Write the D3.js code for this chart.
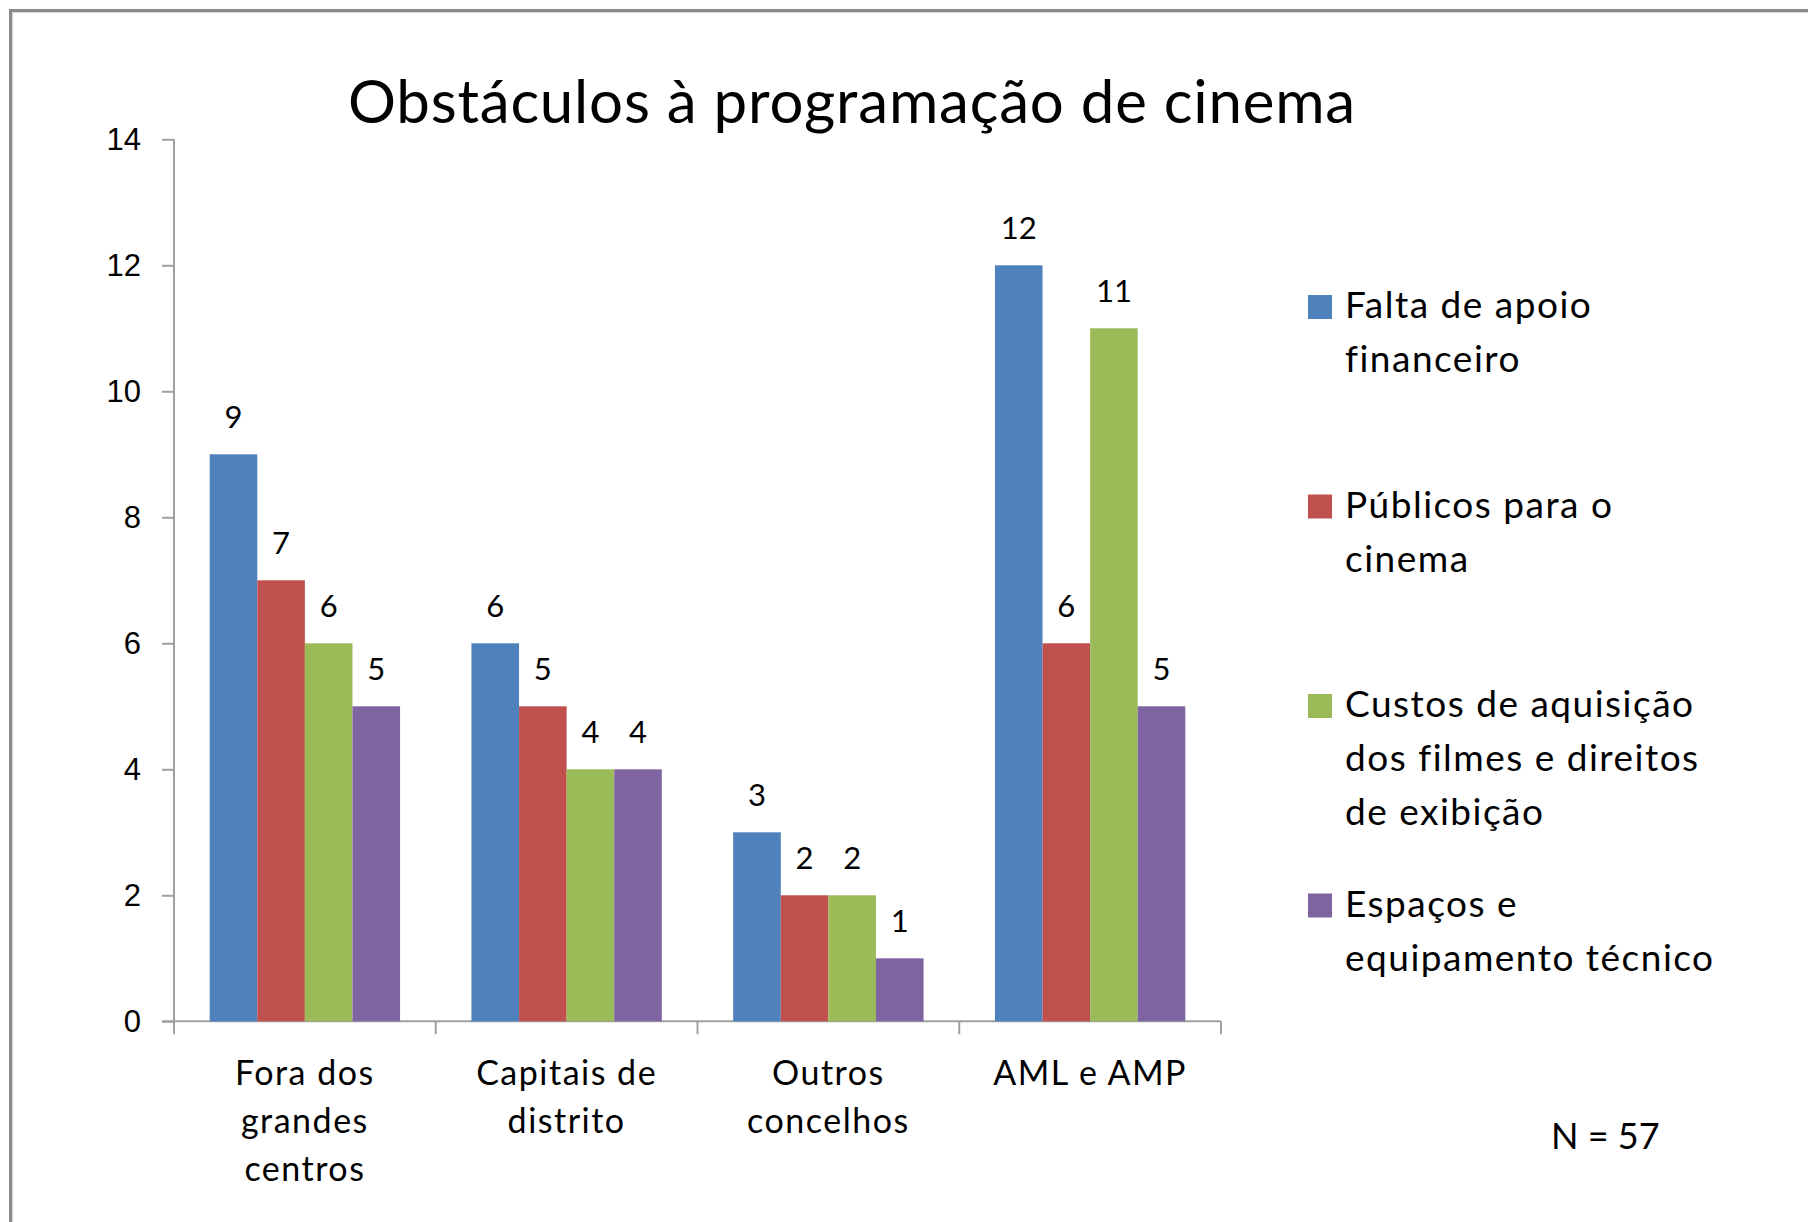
<!DOCTYPE html>
<html>
<head>
<meta charset="utf-8">
<script src="https://cdn.jsdelivr.net/npm/d3@7"></script>
<style>
  body { margin: 0; background: #fff; }
  svg { display: block; font-family: Lato, "Open Sans", sans-serif; }
  .axis path, .axis line { stroke: #a0a0a0; stroke-width: 2px; }
</style>
</head>
<body>
<div class="content"></div>
<script>
var size = {width: 1808, height: 1222};

// data
var categories = ["Fora dos\ngrandes\ncentros", "Capitais de\ndistrito", "Outros\nconcelhos", "AML e AMP"];
var series = ["Falta de apoio\nfinanceiro", "Públicos para o\ncinema", "Custos de aquisição\ndos filmes e direitos\nde exibição", "Espaços e\nequipamento técnico"];
var colors = ["#4f81bd", "#c0504d", "#9bbb59", "#8064a2"];
var values = [
    [9, 7, 6, 5],     // Fora dos grandes centros
    [6, 5, 4, 4],     // Capitais de distrito
    [3, 2, 2, 1],     // Outros concelhos
    [12, 6, 11, 5]    // AML e AMP
];
var yTicks = [0, 2, 4, 6, 8, 10, 12, 14];
var title = "Obstáculos à programação de cinema";
var note = "N = 57";

var plotArea = {left: 174, right: 1221, top: 139.3, bottom: 1021.3};

var chart = d3.select('.content')
    .append('svg:svg')
    .attr('width', size.width)
    .attr('height', size.height);

chart.append('rect')
    .attr('width', size.width).attr('height', size.height)
    .attr('fill', '#fff');

// outer frame, only top and left edges are visible in the picture
chart.append('rect')
    .attr('x', 10.5).attr('y', 10.5)
    .attr('width', size.width + 20).attr('height', size.height + 20)
    .attr('fill', 'none')
    .attr('stroke', '#8a8a8a')
    .attr('stroke-width', 3);
chart.append('rect')
    .attr('x', 12.5).attr('y', 12.5)
    .attr('width', size.width + 20).attr('height', size.height + 20)
    .attr('fill', 'none')
    .attr('stroke', '#d4d4d4')
    .attr('stroke-width', 1);

var xScale = d3.scaleBand()
    .domain(d3.range(categories.length))
    .range([plotArea.left, plotArea.right]);
var subScale = d3.scaleBand()
    .domain(d3.range(series.length))
    .range([0, xScale.bandwidth()])
    .paddingOuter(0.75);
var yScale = d3.scaleLinear()
    .domain([0, 14])
    .range([plotArea.bottom, plotArea.top]);

// y axis
var yAxis = d3.axisLeft(yScale).tickValues(yTicks).tickSize(12).tickPadding(21);
var yAxisObj = chart.append('g')
    .attr('class', 'axis')
    .attr('transform', 'translate(' + plotArea.left + ',0)')
    .call(yAxis);
yAxisObj.select('.domain').remove();
yAxisObj.append('line')
    .attr('x1', 0).attr('x2', 0)
    .attr('y1', plotArea.top).attr('y2', plotArea.bottom);
yAxisObj.selectAll('text')
    .attr('fill', '#000')
    .style('font-size', '31px');

// x axis: tick marks at category boundaries
var xAxisObj = chart.append('g')
    .attr('class', 'axis')
    .attr('transform', 'translate(0,' + plotArea.bottom + ')');
xAxisObj.append('line')
    .attr('x1', plotArea.left - 12).attr('x2', plotArea.right)
    .attr('y1', 0).attr('y2', 0);
xAxisObj.selectAll('line.tick')
    .data(d3.range(categories.length + 1))
    .enter().append('line')
    .attr('class', 'tick')
    .attr('x1', function(d) { return d < categories.length ? xScale(d) : plotArea.right; })
    .attr('x2', function(d) { return d < categories.length ? xScale(d) : plotArea.right; })
    .attr('y1', 0).attr('y2', 13);

// category labels
xAxisObj.selectAll('text.cat')
    .data(categories)
    .enter().append('text')
    .attr('class', 'cat')
    .attr('text-anchor', 'middle')
    .style('font-size', '34px')
    .style('letter-spacing', '1.5px')
    .attr('fill', '#000')
    .each(function(d, i) {
        var t = d3.select(this);
        d.split('\n').forEach(function(line, j) {
            t.append('tspan')
                .attr('x', xScale(i) + xScale.bandwidth() / 2)
                .attr('y', 64 + j * 48)
                .text(line);
        });
    });

// bars
var groups = chart.selectAll('g.group')
    .data(values)
    .enter().append('g')
    .attr('class', 'group')
    .attr('transform', function(d, i) { return 'translate(' + xScale(i) + ',0)'; });

groups.selectAll('rect.bar')
    .data(function(d) { return d; })
    .enter().append('rect')
    .attr('class', 'bar')
    .attr('x', function(d, j) { return subScale(j); })
    .attr('width', subScale.bandwidth())
    .attr('y', function(d) { return yScale(d); })
    .attr('height', function(d) { return yScale(0) - yScale(d); })
    .attr('fill', function(d, j) { return colors[j]; });

groups.selectAll('text.val')
    .data(function(d) { return d; })
    .enter().append('text')
    .attr('class', 'val')
    .attr('x', function(d, j) { return subScale(j) + subScale.bandwidth() / 2; })
    .attr('y', function(d) { return yScale(d) - 26; })
    .attr('text-anchor', 'middle')
    .style('font-size', '31px')
    .attr('fill', '#000')
    .text(function(d) { return d; });

// title
chart.append('text')
    .attr('x', 852).attr('y', 123)
    .attr('text-anchor', 'middle')
    .style('font-size', '60px')
    .style('letter-spacing', '0.8px')
    .attr('fill', '#000')
    .text(title);

// legend
var legend = chart.selectAll('g.legend')
    .data(series)
    .enter().append('g')
    .attr('class', 'legend')
    .attr('transform', function(d, i) { return 'translate(1308,' + (318 + i * 199.5) + ')'; });
legend.append('rect')
    .attr('x', 0).attr('y', -23)
    .attr('width', 24).attr('height', 24)
    .attr('fill', function(d, i) { return colors[i]; });
legend.append('text')
    .style('font-size', '37px')
    .style('letter-spacing', '1.5px')
    .attr('fill', '#000')
    .each(function(d) {
        var t = d3.select(this);
        d.split('\n').forEach(function(line, j) {
            t.append('tspan')
                .attr('x', 37)
                .attr('y', j * 54)
                .text(line);
        });
    });

chart.append('text')
    .attr('x', 1551).attr('y', 1149)
    .style('font-size', '36px')
    .attr('fill', '#000')
    .text(note);
</script>
</body>
</html>
